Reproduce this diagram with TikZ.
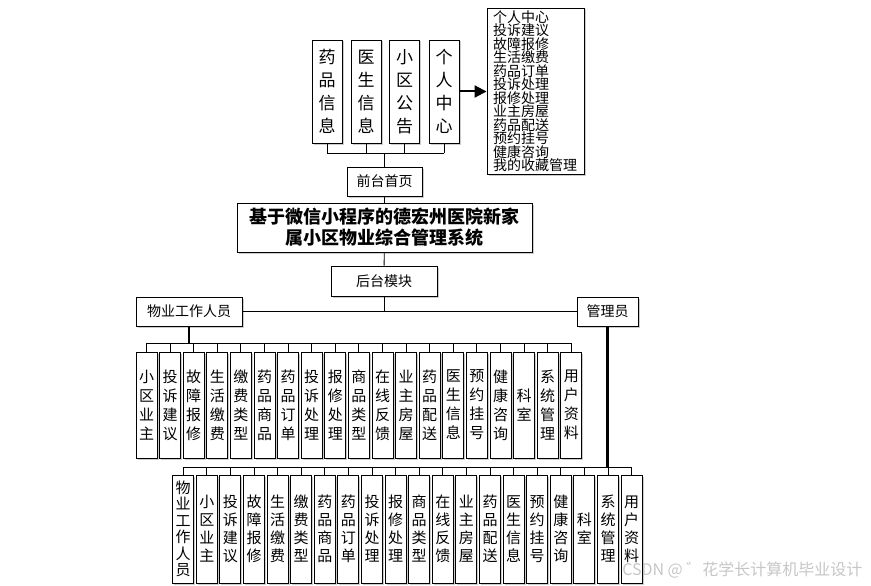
\documentclass[tikz,border=0pt]{standalone}
\usepackage{fontspec}
\setmainfont{Noto Sans CJK SC}
\usetikzlibrary{arrows.meta,shadows}

\begin{document}
\begin{tikzpicture}[x=1pt, y=-1pt,
    box/.style={draw, line width=0.9pt, fill=white, inner sep=0pt, align=center,
      drop shadow={shadow xshift=1.5pt, shadow yshift=-1.5pt, fill=gray!40, opacity=1}},
    colbox/.style={box, minimum width=21pt, font=\fontsize{15}{19}\selectfont},
    topbox/.style={box, minimum width=30pt, minimum height=103pt, font=\fontsize{17}{23}\selectfont},
    link/.style={line width=0.9pt},
    trunk/.style={line width=2.1pt}]
  % Limiti
  \useasboundingbox (0,0) rectangle (871,586);
  % Front-end
  \node[topbox] (ypxx) at (327,91.5) {药\\品\\信\\息};
  \node[topbox] (ysxx) at (366,91.5) {医\\生\\信\\息};
  \node[topbox] (xqgg) at (404.5,91.5) {小\\区\\公\\告};
  \node[topbox] (grzx) at (444,91.5) {个\\人\\中\\心};
  \node[box, minimum width=97pt, minimum height=166pt, text width=85pt, inner xsep=6pt,
    align=left, font=\fontsize{14}{13.5}\selectfont] (gnlb) at (535.5,91)
    {个人中心\\投诉建议\\故障报修\\生活缴费\\药品订单\\投诉处理\\报修处理\\业主房屋\\药品配送\\预约挂号\\健康咨询\\我的收藏管理};
  \draw[line width=2pt, -{Triangle[length=12pt,width=12pt]}] (grzx.east) -- (grzx.east -| gnlb.west);
  \node[box, minimum width=75pt, minimum height=29pt, font=\fontsize{14}{16}\selectfont] (qtsy) at (384.5,181.5) {前台首页};
  \coordinate (bus0) at (0,153);
  \foreach \n in {ypxx,ysxx,xqgg,grzx} \draw[link] (\n) -- (\n |- bus0);
  \draw[link] (ypxx |- bus0) -- (grzx |- bus0);
  \draw[link] (qtsy) -- (qtsy |- bus0);
  % Sistema
  \node[box, minimum width=295pt, minimum height=49pt, font=\fontsize{18}{21}\selectfont\bfseries] (xt) at (384.5,227.5)
    {基于微信小程序的德宏州医院新家\\属小区物业综合管理系统};
  \draw[link] (qtsy) -- (xt);
  \node[box, minimum width=106pt, minimum height=30pt, font=\fontsize{14}{16}\selectfont] (htmk) at (384,281) {后台模块};
  \draw[link] (xt) -- (htmk);
  \node[box, minimum width=106pt, minimum height=29pt, font=\fontsize{14}{16}\selectfont] (wygz) at (189,311.5) {物业工作人员};
  \node[box, minimum width=61pt, minimum height=29pt, font=\fontsize{14}{16}\selectfont] (gly) at (607.5,311.5) {管理员};
  \draw[link] (wygz) -- (gly);
  \draw[link] (htmk) -- (htmk |- wygz);
  % Moduli personale
  \coordinate (bus1) at (0,343);
  \foreach \t [count=\i] in {{小\\区\\业\\主},{投\\诉\\建\\议},{故\\障\\报\\修},{生\\活\\缴\\费},
      {缴\\费\\类\\型},{药\\品\\商\\品},{药\\品\\订\\单},{投\\诉\\处\\理},{报\\修\\处\\理},
      {商\\品\\类\\型},{在\\线\\反\\馈},{业\\主\\房\\屋},{药\\品\\配\\送},{医\\生\\信\\息},
      {预\\约\\挂\\号},{健\\康\\咨\\询},{科\\室},{系\\统\\管\\理},{用\\户\\资\\料}}
    \node[colbox, minimum height=106pt] (a\i) at ({146.5+23.6*(\i-1)},405) {\t};
  \foreach \i in {1,...,19} \draw[link] (a\i) -- (a\i |- bus1);
  \draw[link] (a1 |- bus1) -- (a19 |- bus1);
  \draw[trunk] (wygz) -- (wygz |- bus1);
  % Moduli amministratore
  \coordinate (bus2) at (0,467);
  \node[colbox, minimum height=108pt, font=\fontsize{15}{16.5}\selectfont] (b1) at (183.2,529) {物\\业\\工\\作\\人\\员};
  \foreach \t [count=\i from 2] in {{小\\区\\业\\主},{投\\诉\\建\\议},{故\\障\\报\\修},{生\\活\\缴\\费},
      {缴\\费\\类\\型},{药\\品\\商\\品},{药\\品\\订\\单},{投\\诉\\处\\理},{报\\修\\处\\理},
      {商\\品\\类\\型},{在\\线\\反\\馈},{业\\主\\房\\屋},{药\\品\\配\\送},{医\\生\\信\\息},
      {预\\约\\挂\\号},{健\\康\\咨\\询},{科\\室},{系\\统\\管\\理},{用\\户\\资\\料}}
    \node[colbox, minimum height=108pt, font=\fontsize{15}{18}\selectfont] (b\i) at ({183.2+23.6*(\i-1)},529) {\t};
  \foreach \i in {1,...,20} \draw[link] (b\i) -- (b\i |- bus2);
  \draw[link] (b1 |- bus2) -- (b20 |- bus2);
  \draw[trunk] (gly) -- (gly |- bus2);
  % Filigrana
  \node[anchor=east, text=gray!45, font=\fontsize{16}{16}\selectfont] (wm) at (866,570) {CSDN @ ゛花学长计算机毕业设计};
\end{tikzpicture}
\end{document}
